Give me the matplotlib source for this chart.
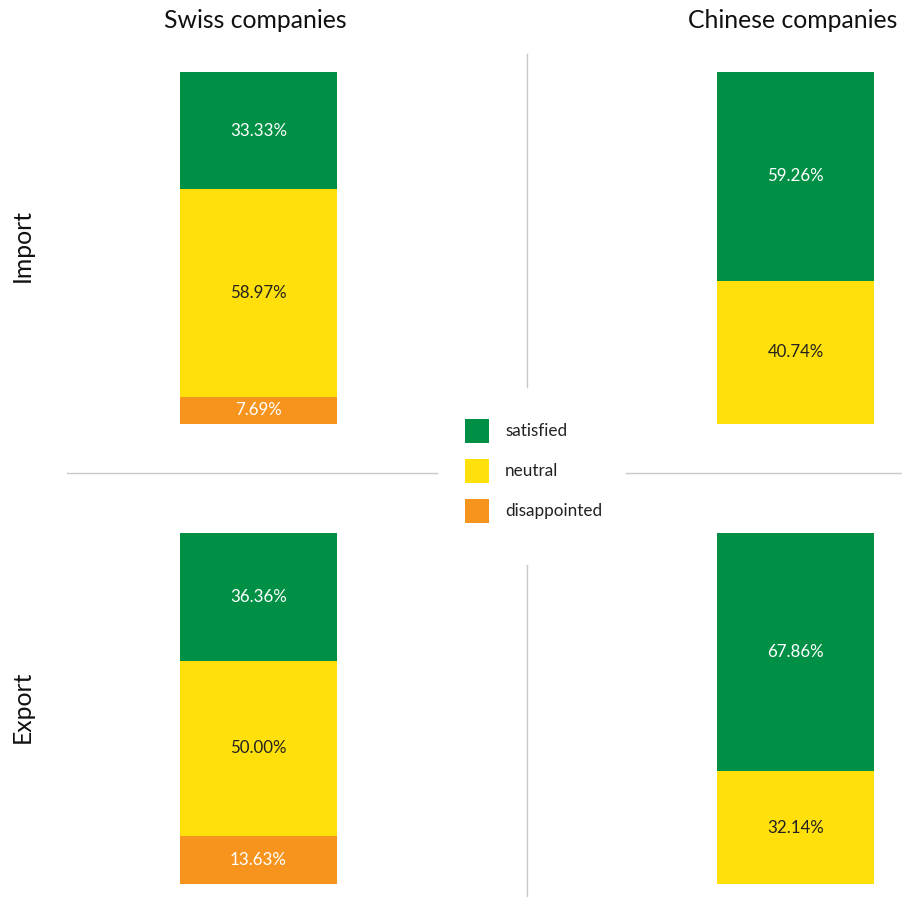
import matplotlib
matplotlib.use("Agg")
import matplotlib.pyplot as plt
from matplotlib.patches import Rectangle

plt.rcParams['font.family'] = ['Lato', 'DejaVu Sans']

# data
groups = ["Swiss companies", "Chinese companies"]
rows = ["Import", "Export"]
categories = ["satisfied", "neutral", "disappointed"]
colors = ["#009045", "#FFE00A", "#F7941E"]
text_colors = ["white", "#222222", "white"]

swiss_import = [33.33, 58.97, 7.69]
chinese_import = [59.26, 40.74, 0.0]
swiss_export = [36.36, 50.00, 13.63]
chinese_export = [67.86, 32.14, 0.0]

panels = {
    ("Import", "Swiss companies"): swiss_import,
    ("Import", "Chinese companies"): chinese_import,
    ("Export", "Swiss companies"): swiss_export,
    ("Export", "Chinese companies"): chinese_export,
}

W, H = 903, 897
fig = plt.figure(figsize=(W / 100, H / 100), dpi=100)

def px_axes(x0, y0, x1, y1):
    # pixel box (top-left origin) -> figure axes
    return fig.add_axes([x0 / W, 1 - y1 / H, (x1 - x0) / W, (y1 - y0) / H])

col_x = {"Swiss companies": (180, 337), "Chinese companies": (717, 874)}
row_y = {"Import": (72, 424), "Export": (533, 884)}

for (row, grp), vals in panels.items():
    x0, x1 = col_x[grp]
    y0, y1 = row_y[row]
    ax = px_axes(x0, y0, x1, y1)
    # stack from bottom: disappointed, neutral, satisfied
    bottom = 0
    for i in [2, 1, 0]:
        v = vals[i]
        if v <= 0:
            continue
        ax.bar(0, v, width=1, bottom=bottom, color=colors[i], linewidth=0)
        ax.text(0, bottom + v / 2, f"{v:.2f}%", ha="center", va="center",
                color=text_colors[i], fontsize=12.2)
        bottom += v
    ax.set_xlim(-0.5, 0.5)
    ax.set_ylim(0, sum(vals))
    ax.axis("off")

# overlay for titles, dividers and legend
ov = fig.add_axes([0, 0, 1, 1])
ov.set_xlim(0, W)
ov.set_ylim(H, 0)
ov.axis("off")
ov.patch.set_alpha(0)

for grp in groups:
    x0, x1 = col_x[grp]
    ov.text((x0 + x1) / 2 - 3, 20, grp, ha="center", va="center", fontsize=17.8, color="#111111")
for row in rows:
    y0, y1 = row_y[row]
    ov.text(22, (y0 + y1) / 2 - 2, row,
            ha="center", va="center", rotation=90, fontsize=17.8, color="#111111")

line_c = "#c8c8c8"
ov.plot([527, 527], [54, 387], color=line_c, lw=1)
ov.plot([527, 527], [565, 897], color=line_c, lw=1)
ov.plot([67, 437], [473, 473], color=line_c, lw=1)
ov.plot([626, 903], [473, 473], color=line_c, lw=1)

for i, (cat, c) in enumerate(zip(categories, colors)):
    y = 419 + i * 40
    ov.add_patch(Rectangle((465, y), 24, 24, color=c, lw=0))
    ov.text(505, y + 12, cat, ha="left", va="center", fontsize=12.3, color="#222222")

fig.savefig("out.png", dpi=100)
